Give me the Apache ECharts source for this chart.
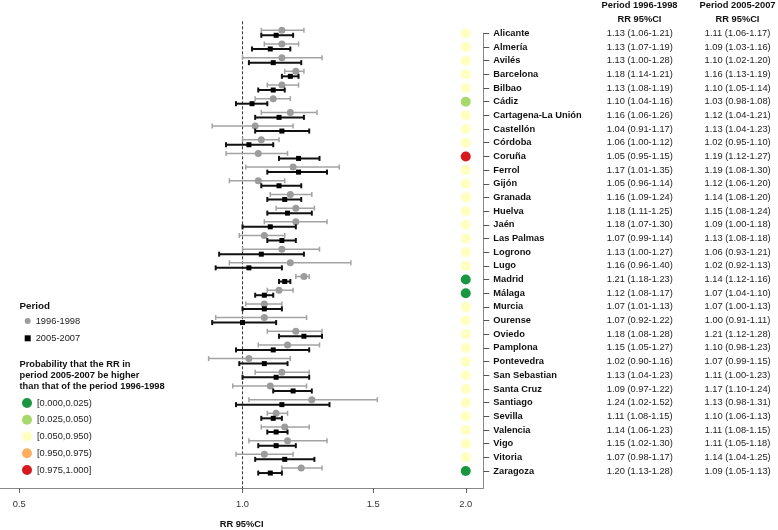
<!DOCTYPE html>
<html><head><meta charset="utf-8">
<script src="https://cdn.jsdelivr.net/npm/echarts@6/dist/echarts.min.js"></script>
<style>html,body{margin:0;padding:0;background:#fff}#c{width:778px;height:530px}</style>
</head><body><div id="c"></div>
<script>
const cities = ['Alicante','Almería','Avilés','Barcelona','Bilbao','Cádiz','Cartagena-La Unión','Castellón','Córdoba','Coruña','Ferrol','Gijón','Granada','Huelva','Jaén','Las Palmas','Logrono','Lugo','Madrid','Málaga','Murcia','Ourense','Oviedo','Pamplona','Pontevedra','San Sebastian','Santa Cruz','Santiago','Sevilla','Valencia','Vigo','Vitoria','Zaragoza'];
// Period 1996-1998
const rr1 = [1.13,1.13,1.13,1.18,1.13,1.10,1.16,1.04,1.06,1.05,1.17,1.05,1.16,1.18,1.18,1.07,1.13,1.16,1.21,1.12,1.07,1.07,1.18,1.15,1.02,1.13,1.09,1.24,1.11,1.14,1.15,1.07,1.20];
const lo1 = [1.06,1.07,1.00,1.14,1.08,1.04,1.06,0.91,1.00,0.95,1.01,0.96,1.09,1.11,1.07,0.99,1.00,0.96,1.18,1.08,1.01,0.92,1.08,1.05,0.90,1.04,0.97,1.02,1.08,1.06,1.02,0.98,1.13];
const hi1 = [1.21,1.19,1.28,1.21,1.19,1.16,1.26,1.17,1.12,1.15,1.35,1.14,1.24,1.25,1.30,1.14,1.27,1.40,1.23,1.17,1.13,1.22,1.28,1.27,1.16,1.23,1.22,1.52,1.15,1.23,1.30,1.17,1.28];
// Period 2005-2007
const rr2 = [1.11,1.09,1.10,1.16,1.10,1.03,1.12,1.13,1.02,1.19,1.19,1.12,1.14,1.15,1.09,1.13,1.06,1.02,1.14,1.07,1.07,1.00,1.21,1.10,1.07,1.11,1.17,1.13,1.10,1.11,1.11,1.14,1.09];
const lo2 = [1.06,1.03,1.02,1.13,1.05,0.98,1.04,1.04,0.95,1.12,1.08,1.06,1.08,1.08,1.00,1.08,0.93,0.92,1.12,1.04,1.00,0.91,1.12,0.98,0.99,1.00,1.10,0.98,1.06,1.08,1.05,1.04,1.05];
const hi2 = [1.17,1.16,1.20,1.19,1.14,1.08,1.21,1.23,1.10,1.27,1.30,1.20,1.20,1.24,1.18,1.18,1.21,1.13,1.16,1.10,1.13,1.11,1.28,1.23,1.15,1.23,1.24,1.31,1.13,1.15,1.18,1.25,1.13];
// probability class (index into probLabels)
const probCat = [2,2,2,2,2,1,2,2,2,4,2,2,2,2,2,2,2,2,0,0,2,2,2,2,2,2,2,2,2,2,2,2,0];
const probLabels = ['[0.000,0.025)','[0.025,0.050)','[0.050,0.950)','[0.950,0.975)','[0.975,1.000]'];
const probColors = ['#1a9641','#a6d96a','#ffffbf','#fdae61','#d7191c'];
const xTicks = [0.5, 1.0, 1.5, 2.0];
const refValue = 1.0;
const probX = 2.0;
const periodNames = ['1996-1998','2005-2007'];

const FONT = '"Liberation Sans", Arial, sans-serif';
const FS = 9.3;
const idx = cities.map((c, i) => i);
const yMax = cities.length + 0.24;
const fmt = (r, l, h) => r.toFixed(2) + ' (' + l.toFixed(2) + '-' + h.toFixed(2) + ')';
const col1 = cities.map((c, i) => fmt(rr1[i], lo1[i], hi1[i]));
const col2 = cities.map((c, i) => fmt(rr2[i], lo2[i], hi2[i]));

function errSeries(name, lo, hi, dy, color, width, z) {
  return {
    type: 'custom', name: name, silent: true, clip: false, z: z,
    data: idx.map(i => [lo[i], hi[i], i]),
    encode: { x: [0, 1], y: 2 },
    renderItem(params, api) {
      const y = api.value(2);
      const a = api.coord([api.value(0), y]);
      const b = api.coord([api.value(1), y]);
      const yy = a[1] + dy, cap = 2.5;
      const st = { stroke: color, lineWidth: width };
      return { type: 'group', children: [
        { type: 'line', shape: { x1: a[0], y1: yy, x2: b[0], y2: yy }, style: st },
        { type: 'line', shape: { x1: a[0], y1: yy - cap, x2: a[0], y2: yy + cap }, style: st },
        { type: 'line', shape: { x1: b[0], y1: yy - cap, x2: b[0], y2: yy + cap }, style: st }
      ]};
    }
  };
}

function textAxis(labels, margin) {
  return {
    type: 'value', position: 'right', inverse: true, min: 0, max: yMax,
    axisLine: { show: false }, axisTick: { show: false }, splitLine: { show: false },
    axisLabel: { customValues: idx, margin: margin, align: 'center', fontSize: FS, color: '#222', fontFamily: FONT,
      formatter: v => labels[Math.round(v)] || '' }
  };
}

const series = [
  {
    type: 'custom', silent: true, clip: false, z: 1,
    data: [[refValue, 0]], encode: { x: 0, y: 1 },
    renderItem(params, api) {
      const t = api.coord([api.value(0), 0]);
      const b = api.coord([api.value(0), yMax]);
      return { type: 'line', shape: { x1: t[0], y1: t[1] - 12, x2: b[0], y2: b[1] },
        style: { stroke: '#333', lineWidth: 1, lineDash: [3, 2] } };
    }
  },
  errSeries('ci1', lo1, hi1, -3, '#a3a3a3', 1.5, 2),
  { type: 'scatter', name: periodNames[0], silent: true, z: 3, symbol: 'circle', symbolSize: 7, symbolOffset: [0, -3],
    itemStyle: { color: '#9c9c9c', opacity: 1 }, data: idx.map(i => [rr1[i], i]) },
  errSeries('ci2', lo2, hi2, 2, '#111', 2, 4),
  { type: 'scatter', name: periodNames[1], silent: true, z: 5, symbol: 'rect', symbolSize: 5, symbolOffset: [0, 2],
    itemStyle: { color: '#000', opacity: 1 }, data: idx.map(i => [rr2[i], i]) }
];
probLabels.forEach((lab, k) => {
  series.push({ type: 'scatter', name: lab, silent: true, z: 6, symbol: 'circle', symbolSize: 10,
    itemStyle: { color: probColors[k], opacity: 1 },
    data: idx.filter(i => probCat[i] === k).map(i => [probX, i]) });
});

const chart = echarts.init(document.getElementById('c'), null, { renderer: 'canvas' });
chart.setOption({
  animation: false,
  backgroundColor: '#fff',
  textStyle: { fontFamily: FONT },
  grid: { left: 0, right: 294.7, top: 33.3, bottom: 42, containLabel: false, outerBoundsMode: 'none' },
  xAxis: {
    type: 'log', logBase: 1.4, min: 0.4709, max: 2.112,
    axisLine: { onZero: false, lineStyle: { color: '#888', width: 1 } },
    axisTick: { customValues: xTicks, length: 5, lineStyle: { color: '#666' } },
    axisLabel: { customValues: xTicks, margin: 12, fontSize: FS, color: '#333', fontFamily: FONT,
      formatter: v => Number(v).toFixed(1) },
    splitLine: { show: false }, minorTick: { show: false },
    name: 'RR 95%CI', nameLocation: 'middle', nameGap: 32,
    nameTextStyle: { fontSize: FS, fontWeight: 'bold', color: '#111', fontFamily: FONT }
  },
  yAxis: [
    {
      type: 'value', position: 'right', inverse: true, min: 0, max: yMax,
      axisLine: { onZero: false, lineStyle: { color: '#888', width: 1 } },
      axisTick: { customValues: idx, length: 6, lineStyle: { color: '#555' } },
      axisLabel: { customValues: idx, margin: 10, fontSize: FS, fontWeight: 'bold', color: '#111', fontFamily: FONT,
        formatter: v => cities[Math.round(v)] || '' },
      splitLine: { show: false }
    },
    textAxis(col1, 156.5),
    textAxis(col2, 254.3)
  ],
  legend: [
    { data: periodNames, orient: 'vertical', left: 24.7, top: 315, padding: 0, itemWidth: 6, itemHeight: 6, itemGap: 5.3,
      selectedMode: false, textStyle: { fontSize: FS, color: '#222', lineHeight: 12, fontFamily: FONT } },
    { data: probLabels, orient: 'vertical', left: 22, top: 397, padding: 0, itemWidth: 10, itemHeight: 10, itemGap: 4.75,
      selectedMode: false, textStyle: { fontSize: FS, color: '#222', lineHeight: 12, fontFamily: FONT } }
  ],
  graphic: [
    { type: 'text', left: 19.5, top: 301, style: { text: 'Period', fontSize: 9.8, fontWeight: 'bold', fill: '#111', fontFamily: FONT } },
    { type: 'text', left: 19.5, top: 358.5, style: { text: 'Probability that the RR in\nperiod 2005-2007 be higher\nthan that of the period 1996-1998', fontSize: FS, fontWeight: 'bold', fill: '#111', lineHeight: 11, fontFamily: FONT } },
    { type: 'text', x: 639.5, y: 5.7, style: { text: 'Period 1996-1998', align: 'center', verticalAlign: 'middle', fontSize: FS, fontWeight: 'bold', fill: '#111', fontFamily: FONT } },
    { type: 'text', x: 639.5, y: 19, style: { text: 'RR 95%CI', align: 'center', verticalAlign: 'middle', fontSize: FS, fontWeight: 'bold', fill: '#111', fontFamily: FONT } },
    { type: 'text', x: 737.5, y: 5.7, style: { text: 'Period 2005-2007', align: 'center', verticalAlign: 'middle', fontSize: FS, fontWeight: 'bold', fill: '#111', fontFamily: FONT } },
    { type: 'text', x: 737.5, y: 19, style: { text: 'RR 95%CI', align: 'center', verticalAlign: 'middle', fontSize: FS, fontWeight: 'bold', fill: '#111', fontFamily: FONT } }
  ],
  series: series
});
</script></body></html>
